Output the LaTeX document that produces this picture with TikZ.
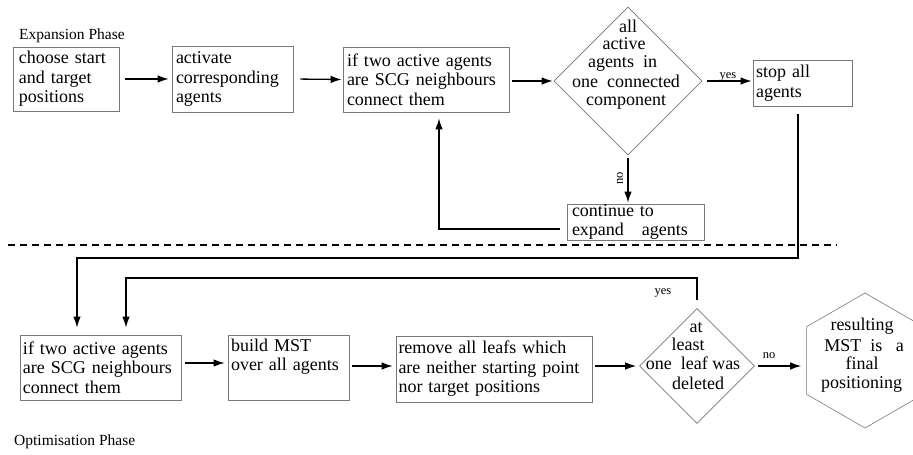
\documentclass[tikz,border=0pt]{standalone}
\usepackage{fontspec}
\setmainfont{Liberation Serif}
\usetikzlibrary{shapes.geometric,arrows.meta}
\definecolor{boxgray}{RGB}{120,120,120}
\tikzset{
  box/.style={draw=boxgray, line width=0.7pt, inner ysep=0pt, align=left,
              font=\fontsize{18}{19.5}\selectfont},
  dia/.style={draw=boxgray, line width=0.6pt, diamond, inner sep=0pt},
  txt/.style={font=\fontsize{18}{19.5}\selectfont, anchor=base, inner sep=0pt},
  lbl/.style={font=\fontsize{15.5}{18}\selectfont, anchor=base west, inner sep=0pt},
  small/.style={font=\fontsize{12.5}{14}\selectfont, anchor=base, inner sep=0pt},
  arr/.style={-{Latex[length=11pt,width=7.5pt]}, line width=1.3pt},
  dline/.style={line width=1.5pt, dash pattern=on 7pt off 5pt},
}
\begin{document}
\begin{tikzpicture}[x=1pt,y=-1pt]
\useasboundingbox (0,0) rectangle (913,455);

% ---------- Expansion phase ----------
\node[lbl] (expl) at (19,39) {Expansion Phase};
\node[box, text width=94pt, inner xsep=6pt, minimum height=64pt] (B1) at (66,79)
  {choose start\\and target\\positions};
\node[box, text width=113pt, inner xsep=4pt, minimum height=66pt] (B2) at (232.5,79)
  {activate\\corresponding\\agents};
\node[box, text width=158pt, inner xsep=4pt, minimum height=65pt] (B3) at (426,79.5)
  {if two active agents\\are SCG neighbours\\connect them};
\node[dia, minimum width=148pt, minimum height=148pt] (D1) at (628,81) {};
\node[txt] (d1a) at (628,32) {all};
\node[txt] (d1b) at (624,49) {active};
\node[txt] (d1c) at (622.5,67) {agents\ \ in};
\node[txt] (d1d) at (626,87) {one\ \ connected};
\node[txt] (d1e) at (626,105) {component};
\node[box, text width=93pt, inner xsep=3pt, minimum height=46pt] (S) at (802.5,83)
  {stop all\\agents};
\node[box, text width=127pt, inner xsep=5pt, minimum height=36pt] (C) at (635.5,222)
  {continue to\\expand\ \ \ agents};
\node[small] (yes1) at (728,78) {yes};
\node[small, rotate=90, anchor=center] (no1) at (620,178) {no};

\draw[arr, shorten <=6pt, shorten >=3pt] (B1.east) -- (B2.west);
\draw[arr, shorten <=7pt, shorten >=1pt] (B2.east) -- (B3.west);
\draw[arr, shorten <=3pt, shorten >=1pt] (B3.east |- D1.west) -- (D1.west);
\draw[arr, shorten <=5pt, shorten >=1pt] (D1.east) -- (S.west |- D1.east);
\draw[arr, shorten <=3pt, shorten >=1pt] (D1.south) -- (D1.south |- C.north);
\coordinate (t2) at (439,229);
\draw[arr, shorten <=7pt, shorten >=6pt] (C.west |- t2) -- (t2) -- (t2 |- B3.south);

% ---------- separator ----------
\coordinate (dl1) at (8,245);
\coordinate (dl2) at (837,245);
\draw[dline] (dl1) -- (dl2);

% ---------- Optimisation phase ----------
\node[box, text width=155pt, inner xsep=3pt, minimum height=65pt] (B4) at (100.5,367.5)
  {if two active agents\\are SCG neighbours\\connect them};
\node[box, text width=115pt, inner xsep=3pt, minimum height=65pt] (B5) at (288.5,367.5)
  {build MST\\over all agents\\\strut};
\node[box, text width=191pt, inner xsep=2.5pt, minimum height=66pt] (B6) at (494,369)
  {remove all leafs which\\are neither starting point\\nor target positions};
\node[dia, minimum width=115pt, minimum height=115pt] (D2) at (697,366) {};
\node[txt] (d2a) at (696,332) {at};
\node[txt] (d2b) at (688,350) {least};
\node[txt] (d2c) at (693,369) {one\ \ leaf was};
\node[txt] (d2d) at (698,389) {deleted};
\begin{scope}
\clip (0,0) rectangle (913,455);
\node[draw=boxgray, line width=0.6pt, regular polygon, regular polygon sides=6,
      shape border rotate=30, minimum size=135pt, inner sep=0pt] (H) at (865,360.5) {};
\end{scope}
\node[txt] (h1) at (862,330) {resulting};
\node[txt] (h2) at (864,351) {MST\ \ is\ \ \ a};
\node[txt] (h3) at (862,369) {final};
\node[txt] (h4) at (861.5,388) {positioning};
\node[small] (yes2) at (663,294) {yes};
\node[small] (no2) at (769,358) {no};
\node[lbl] (optl) at (14,445) {Optimisation Phase};

\coordinate (t1) at (77,258);
\draw[arr, shorten <=8pt, shorten >=7pt] ([xshift=-4.5pt]S.south) |- (t1) -- (t1 |- B4.north);
\coordinate (t3) at (126,278);
\draw[arr, shorten <=8pt, shorten >=7pt] (D2.north) |- (t3) -- (t3 |- B4.north);

\draw[arr, shorten <=4pt, shorten >=3pt] ([yshift=4.5pt]B4.east) -- ([yshift=4.5pt]B5.west);
\draw[arr, shorten <=3pt, shorten >=3pt] ([yshift=1.5pt]B5.east) -- ([yshift=3pt]B6.west);
\draw[arr, shorten <=3pt, shorten >=3pt] (B6.east |- D2.west) -- (D2.west);
\draw[arr, shorten <=3pt, shorten >=5pt] (D2.east) -- (H.west |- D2.east);
\end{tikzpicture}
\end{document}
